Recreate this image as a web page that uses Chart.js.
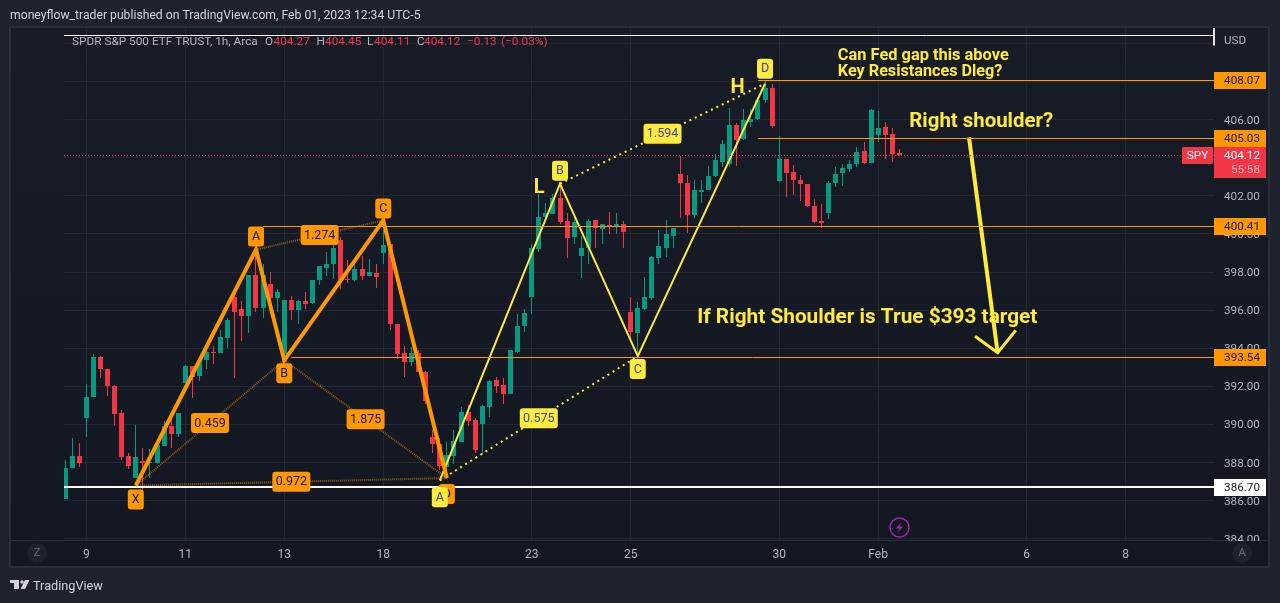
<!DOCTYPE html>
<html>
<head>
<meta charset="utf-8">
<title>SPY 1h</title>
<script src="https://cdn.jsdelivr.net/npm/chart.js@4/dist/chart.umd.min.js"></script>
<style>
    html, body { margin: 0; padding: 0; background: #1e222d; }
    canvas { display: block; }
</style>
</head>
<body>
<canvas id="spyChart" width="1280" height="603"></canvas>
<script>
// Hourly candles
const opens = [
    386.1, 387.71, 388.37, 390.32, 391.42, 393.52, 392.89, 392.0, 390.58, 388.37,
    387.22, 388.11, 388.0, 387.99, 388.85, 389.9, 389.48, 392.2, 393.05, 392.57,
    393.41, 393.83, 393.78, 394.52, 396.67, 396.04, 395.72, 397.87, 396.14, 397.4,
    396.62, 393.68, 396.51, 395.99, 396.46, 396.4, 397.56, 398.24, 398.45, 399.71,
    397.66, 397.56, 398.14, 397.82, 397.93, 398.98, 399.45, 395.3, 393.73, 393.27,
    393.73, 392.78, 389.37, 389.0, 387.75, 388.35, 389.06, 390.68, 390.26, 390.05,
    390.9, 392.36, 392.05, 391.58, 393.83, 395.15, 396.67, 399.19, 400.87, 401.03,
    401.87, 400.66, 399.82, 398.82, 399.24, 400.71, 400.24, 400.45, 400.4, 400.55,
    395.93, 394.78, 396.04, 396.62, 398.72, 399.29, 399.92, 403.13, 402.7, 400.97,
    402.18, 402.29, 403.02, 403.76, 403.65, 405.7, 404.96, 405.9, 406.01, 407.01,
    407.64, 402.76, 403.92, 403.24, 402.82, 402.61, 401.45, 400.66, 401.08, 402.66,
    403.18, 403.39, 403.66, 404.34, 403.71, 405.18, 405.6, 405.23, 404.27
];
const highs = [
    388.16, 389.27, 389.04, 392.15, 393.68, 393.62, 392.94, 392.05, 390.74, 388.53,
    390.0, 388.79, 388.7, 389.07, 390.2, 390.3, 390.63, 393.15, 393.05, 393.4,
    393.9, 394.1, 394.94, 395.6, 397.0, 396.5, 397.87, 399.1, 398.44, 397.98,
    397.12, 396.51, 396.77, 396.51, 396.93, 397.56, 398.3, 399.08, 399.73, 399.83,
    398.61, 398.4, 398.82, 398.71, 398.4, 400.2, 399.45, 395.3, 394.1, 394.06,
    393.92, 392.8, 389.7, 389.3, 389.07, 389.7, 390.91, 391.05, 390.32, 391.05,
    392.36, 392.52, 392.42, 393.89, 395.78, 396.04, 399.45, 402.11, 401.6, 402.1,
    402.6, 401.08, 400.9, 399.87, 400.76, 400.71, 400.55, 401.13, 401.08, 400.66,
    396.67, 396.41, 397.72, 398.87, 400.19, 400.71, 400.34, 404.07, 403.1, 402.81,
    402.81, 403.55, 404.18, 404.91, 406.59, 405.8, 406.54, 406.54, 407.2, 408.07,
    407.85, 405.13, 403.92, 403.6, 403.08, 402.61, 401.82, 401.56, 402.76, 403.5,
    403.66, 403.87, 404.55, 404.81, 406.54, 406.44, 405.86, 405.55, 404.45
];
const lows = [
    386.1, 387.7, 387.76, 389.37, 391.42, 392.42, 391.52, 389.9, 388.16, 387.69,
    387.22, 386.43, 387.22, 387.94, 388.85, 388.79, 389.32, 392.2, 391.37, 392.31,
    392.94, 393.2, 393.78, 394.04, 392.42, 394.36, 394.78, 395.88, 395.57, 396.3,
    395.88, 393.68, 395.46, 395.25, 396.04, 396.35, 397.3, 397.77, 397.63, 397.09,
    397.45, 397.55, 397.61, 397.77, 397.14, 398.45, 394.94, 393.45, 392.52, 393.05,
    392.78, 391.1, 388.48, 387.6, 387.4, 387.95, 389.06, 389.9, 388.53, 388.43,
    390.37, 391.63, 391.1, 391.58, 393.78, 394.83, 395.78, 399.08, 400.8, 401.03,
    400.5, 398.72, 399.5, 397.67, 398.4, 399.24, 399.5, 399.98, 400.0, 399.29,
    394.41, 393.36, 396.0, 396.55, 398.4, 398.77, 399.24, 400.82, 400.03, 400.82,
    401.6, 402.29, 403.0, 403.49, 403.49, 403.55, 404.91, 405.64, 406.0, 406.9,
    405.55, 402.71, 401.92, 402.03, 401.71, 401.4, 400.56, 400.31, 400.77, 402.45,
    402.5, 403.24, 403.5, 403.66, 403.71, 404.81, 403.92, 403.76, 404.11
];
const closes = [
    387.74, 388.37, 388.0, 391.42, 393.52, 392.89, 392.0, 390.53, 388.32, 387.8,
    388.27, 387.99, 388.05, 388.9, 389.9, 389.48, 390.63, 393.05, 392.47, 393.4,
    393.83, 393.8, 394.57, 395.51, 395.88, 395.67, 397.87, 396.14, 397.85, 396.62,
    396.93, 396.51, 395.99, 396.46, 396.35, 397.56, 398.3, 398.45, 399.25, 397.61,
    397.56, 398.14, 397.77, 397.98, 397.72, 399.4, 395.3, 393.68, 393.27, 393.73,
    392.78, 391.26, 389.0, 387.8, 388.38, 389.11, 390.68, 390.16, 388.64, 390.95,
    392.31, 392.0, 391.58, 393.89, 395.15, 395.83, 399.24, 400.87, 401.08, 401.87,
    400.61, 399.77, 400.61, 399.24, 400.66, 400.29, 400.5, 400.4, 400.55, 400.08,
    394.83, 396.09, 396.67, 398.77, 399.35, 399.98, 400.34, 402.65, 400.97, 402.29,
    402.29, 403.02, 403.86, 404.7, 405.7, 404.91, 405.96, 406.06, 407.01, 407.64,
    405.65, 403.92, 403.18, 402.82, 402.61, 401.45, 400.61, 400.56, 402.66, 403.13,
    403.45, 403.66, 404.29, 403.71, 406.49, 405.55, 405.18, 404.18, 404.12
];

// Axes
const dateTickBars = [3, 17, 31, 45, 66, 80, 101, 115, 136, 150];
const dateTickLabels = ['9', '11', '13', '18', '23', '25', '30', 'Feb', '6', '8'];
const priceGrid = [384, 386, 388, 390, 392, 394, 396, 398, 400, 402, 404, 406, 408, 410];
const priceLabelled = [384, 386, 388, 390, 392, 394, 396, 398, 400, 402, 404, 406];

// Harmonic patterns: [bar, price] of each swing
const orangeBars = [10, 27, 31, 45, 54];
const orangePrices = [386.8, 399.18, 393.37, 400.71, 387.19];
const orangeLetters = ['X', 'A', 'B', 'C', 'D'];
const orangeRatios = [[0, 2, '0.459'], [1, 3, '1.274'], [2, 4, '1.875'], [0, 4, '0.972']];
const yellowBars = [53, 70, 81, 99];
const yellowPrices = [387.07, 402.64, 393.59, 407.89];
const yellowLetters = ['A', 'B', 'C', 'D'];
const yellowRatios = [[0, 2, '0.575'], [1, 3, '1.594']];

// Horizontal levels drawn on the chart
const levelPrices = [408.07, 405.03, 400.41, 393.54];
const levelStartBars = [98, 98, 28, 32];
const supportPrice = 386.70;
const lastPrice = 404.12;
const topLinePrice = 410.43;

// Arrow down to the target
const arrowBars = [127.85, 131.9];
const arrowPrices = [405.07, 393.77];
const arrowHeadBars = [128.7, 131.9, 134.46];
const arrowHeadPrices = [394.63, 393.77, 394.94];

const notes = [
    ['Can Fed gap this above', 109.3, 409.34, 'bold 16.4px'],
    ['Key Resistances Dleg?', 109.3, 408.48, 'bold 16.2px'],
    ['H', 94.1, 407.66, 'bold 20px'],
    ['L', 66.3, 402.41, 'bold 20px'],
    ['Right shoulder?', 119.4, 405.88, 'bold 20.4px'],
    ['If Right Shoulder is True $393 target', 89.4, 395.58, 'bold 20.8px']
];

const VERDE = '#089981';
const ROJO = '#f23645';
const NARANJA = '#ff9800';
const AMARILLO = '#ffeb3b';
const FUENTE = 'Roboto, sans-serif';

const xMin = -0.154, xMax = 162.5;
const yMin = 383.94, yMax = 410.81;

function pairs(xs, ys) {
    return xs.map((x, i) => ({ x, y: ys[i] }));
}

function lineSet(data, color, width, dash, clip) {
    return {
        type: 'line', data, borderColor: color, borderWidth: width, borderDash: dash || [],
        pointRadius: 0, tension: 0, order: 1, clip: clip === undefined ? undefined : clip,
        borderCapStyle: 'butt', borderJoinStyle: 'miter'
    };
}

function dottedSets(bars, prices, ratios, color, width, dash) {
    return ratios.map(([a, b]) => lineSet(
        [{ x: bars[a], y: prices[a] }, { x: bars[b], y: prices[b] }], color, width, dash));
}

function flatSet(from, price, color, width, dash) {
    const set = lineSet([{ x: from, y: price }, { x: xMax, y: price }], color, width, dash);
    set.flat = true;
    return set;
}

const candleColors = opens.map((o, i) => (closes[i] >= o ? VERDE : ROJO));
const wicks = highs.map((h, i) => ({ x: i, y: [lows[i], h] }));
const bodies = opens.map((o, i) => ({ x: i, y: [o, closes[i]] }));

const datasets = [
    { label: 'wicks', data: wicks, backgroundColor: candleColors, barThickness: 1, grouped: false, order: 10, inflateAmount: 0, borderWidth: 0 },
    { label: 'bodies', data: bodies, backgroundColor: candleColors, barThickness: 5, grouped: false, order: 9, inflateAmount: 0, borderWidth: 0 },
    flatSet(xMin, lastPrice, ROJO, 1, [1, 2]),
    flatSet(xMin, topLinePrice, '#ffffff', 1),
    lineSet([{ x: xMax, y: yMax }, { x: xMax, y: 409.9 }], '#ffffff', 1, [], false),
    flatSet(xMin, supportPrice, '#ffffff', 2),
    ...levelPrices.map((p, i) => flatSet(levelStartBars[i], p, NARANJA, 1)),
    ...dottedSets(orangeBars, orangePrices, orangeRatios, 'rgba(255,152,0,0.55)', 2, [1, 1]),
    lineSet(pairs(orangeBars, orangePrices), NARANJA, 4),
    ...dottedSets(yellowBars, yellowPrices, yellowRatios, AMARILLO, 2, [2, 4]),
    lineSet(pairs(yellowBars, yellowPrices), AMARILLO, 2),
    lineSet(pairs(arrowBars, arrowPrices), AMARILLO, 4),
    lineSet(pairs(arrowHeadBars, arrowHeadPrices), AMARILLO, 3)
];

function caja(ctx, x, y, w, h, r, fill) {
    ctx.beginPath();
    ctx.roundRect(x, y, w, h, r);
    ctx.fillStyle = fill;
    ctx.fill();
}

function texto(ctx, str, x, y, font, color, align) {
    ctx.font = font + ' ' + FUENTE;
    ctx.fillStyle = color;
    ctx.textAlign = align || 'left';
    ctx.textBaseline = 'middle';
    ctx.fillText(str, x, y);
}

function etiqueta(ctx, str, cx, cy, w, fill, color) {
    caja(ctx, cx - w / 2, cy - 10, w, 20, 3, fill);
    texto(ctx, str, cx, cy + 0.5, '12.5px', color, 'center');
}

// Snap candles and flat levels to whole pixels so they stay crisp
const snapPlugin = {
    id: 'snap',
    afterDatasetsUpdate(chart) {
        [0, 1].forEach(d => {
            chart.getDatasetMeta(d).data.forEach(el => {
                el.x = Math.floor(el.x) + 0.5;
                el.y = Math.round(el.y);
                el.base = Math.round(el.base);
                if (el.y === el.base) el.base += 1;
                el.height = el.base - el.y;
            });
        });
        chart.data.datasets.forEach((set, d) => {
            if (!set.flat) return;
            chart.getDatasetMeta(d).data.forEach(el => {
                el.y = set.borderWidth === 2 ? Math.round(el.y) : Math.floor(el.y) + 0.5;
            });
        });
    }
};

// Page background, frame and header text
const framePlugin = {
    id: 'frame',
    beforeDraw(chart) {
        const ctx = chart.ctx;
        ctx.save();
        ctx.fillStyle = '#1e222d';
        ctx.fillRect(0, 0, 1280, 603);
        const grad = ctx.createLinearGradient(0, 27, 0, 567);
        grad.addColorStop(0, '#181c27');
        grad.addColorStop(1, '#131722');
        ctx.fillStyle = grad;
        ctx.fillRect(10, 27, 1259, 540);
        ctx.strokeStyle = '#2a2e39';
        ctx.lineWidth = 2;
        ctx.strokeRect(10, 27, 1259, 540);
        ctx.lineWidth = 1;
        ctx.beginPath();
        ctx.moveTo(11, 540.5);
        ctx.lineTo(1268, 540.5);
        ctx.stroke();
        texto(ctx, 'moneyflow_trader published on TradingView.com, Feb 01, 2023 12:34 UTC-5', 10, 15.5, '12.2px', '#d1d4dc');
        texto(ctx, 'TradingView', 33, 587, '12.7px', '#d1d4dc');
        // logo
        ctx.fillStyle = '#d1d4dc';
        ctx.fillRect(10, 580, 9, 3);
        ctx.fillRect(14, 583, 5, 6);
        ctx.beginPath();
        ctx.arc(22, 582, 1.7, 0, Math.PI * 2);
        ctx.fill();
        ctx.beginPath();
        ctx.moveTo(25, 580);
        ctx.lineTo(29.5, 580);
        ctx.lineTo(25, 589);
        ctx.lineTo(20.5, 589);
        ctx.fill();
        ctx.restore();
    },
    beforeDatasetsDraw(chart) {
        // the lowest price label is cut by the date axis
        const ctx = chart.ctx;
        ctx.save();
        ctx.fillStyle = '#131722';
        ctx.fillRect(1215, 541, 53, 25);
        ctx.restore();
    }
};

// Everything written over the candles
const notesPlugin = {
    id: 'notes',
    afterDatasetsDraw(chart) {
        const ctx = chart.ctx;
        const sx = chart.scales.x, sy = chart.scales.y;
        ctx.save();

        // legend
        const yLeg = 42.5;
        texto(ctx, 'SPDR S&P 500 ETF TRUST, 1h, Arca', 72, yLeg, '11.8px', '#b2b5be');
        [['O', 265], ['H', 316.5], ['L', 367], ['C', 417]].forEach(([s, x]) => texto(ctx, s, x, yLeg, '11.8px', '#b2b5be'));
        [['404.27', 273.5], ['404.45', 325], ['404.11', 374], ['404.12', 424], ['\u22120.13', 467], ['(\u22120.03%)', 501]]
            .forEach(([s, x]) => texto(ctx, s, x, yLeg, '11.8px', ROJO));

        // free text
        notes.forEach(([str, bar, price, font]) => {
            texto(ctx, str, sx.getPixelForValue(bar), sy.getPixelForValue(price), font, AMARILLO);
        });

        // ratio tags sit halfway along the dotted legs
        const tags = (bars, prices, ratios, fill, color) => ratios.forEach(([a, b, str]) => {
            const cx = (sx.getPixelForValue(bars[a]) + sx.getPixelForValue(bars[b])) / 2;
            const cy = (sy.getPixelForValue(prices[a]) + sy.getPixelForValue(prices[b])) / 2;
            etiqueta(ctx, str, cx, cy, 38, fill, color);
        });
        tags(orangeBars, orangePrices, orangeRatios, NARANJA, '#131722');
        tags(yellowBars, yellowPrices, yellowRatios, AMARILLO, '#3a4a9f');

        const letras = (bars, prices, letters, gaps, fill, color) => letters.forEach((s, i) => {
            etiqueta(ctx, s, sx.getPixelForValue(bars[i]), sy.getPixelForValue(prices[i]) + gaps[i], 16, fill, color);
        });
        letras(orangeBars, orangePrices, orangeLetters, [14, -13, 13, -12, 16], NARANJA, '#131722');
        letras(yellowBars, yellowPrices, yellowLetters, [17, -13, 13, -15], AMARILLO, '#3a4a9f');

        // price axis labels
        const priceTag = (str, price, fill, color) => {
            const y = Math.round(sy.getPixelForValue(price));
            ctx.fillStyle = fill;
            ctx.fillRect(1214, y - 8, 52, 17);
            texto(ctx, str, 1260, y + 1.5, '11.7px', color, 'right');
        };
        priceTag('408.07', 408.07, NARANJA, '#131722');
        priceTag('405.03', 405.03, NARANJA, '#131722');
        priceTag('400.41', 400.41, NARANJA, '#131722');
        priceTag('393.54', 393.54, NARANJA, '#131722');
        priceTag('386.70', 386.70, '#ffffff', '#131722');

        ctx.fillStyle = ROJO;
        ctx.fillRect(1214, 147, 52, 31);
        texto(ctx, '404.12', 1260, 156.5, '11.7px', '#ffffff', 'right');
        texto(ctx, '55:58', 1260, 170.5, '11.7px', '#ffb3b9', 'right');
        caja(ctx, 1182, 147, 31, 17, 1, ROJO);
        texto(ctx, 'SPY', 1197.5, 156.5, '11.7px', '#ffffff', 'center');

        texto(ctx, 'USD', 1224, 41.5, '11.7px', '#b2b5be');

        // corner buttons
        [[37, 'Z'], [1242, 'A']].forEach(([x, s]) => {
            ctx.beginPath();
            ctx.arc(x, 553, 10, 0, Math.PI * 2);
            ctx.fillStyle = '#1e222d';
            ctx.fill();
            texto(ctx, s, x, 553.5, '11.7px', '#6a6d78', 'center');
        });

        // lightning mark
        ctx.strokeStyle = '#9c27b0';
        ctx.lineWidth = 1.5;
        ctx.beginPath();
        ctx.arc(899.5, 527.5, 9.5, 0, Math.PI * 2);
        ctx.stroke();
        ctx.fillStyle = '#9c27b0';
        ctx.beginPath();
        ctx.moveTo(901.5, 522);
        ctx.lineTo(896, 528.5);
        ctx.lineTo(899.5, 528.5);
        ctx.lineTo(897.5, 533);
        ctx.lineTo(903, 526.5);
        ctx.lineTo(899.5, 526.5);
        ctx.fill();
        ctx.restore();
    }
};

new Chart(document.getElementById('spyChart').getContext('2d'), {
    type: 'bar',
    data: { datasets },
    plugins: [snapPlugin, framePlugin, notesPlugin],
    options: {
        responsive: false,
        animation: false,
        devicePixelRatio: 1,
        layout: { padding: { left: 64, top: 28, right: 0, bottom: 0 } },
        plugins: { legend: { display: false }, tooltip: { enabled: false } },
        scales: {
            x: {
                type: 'linear',
                min: xMin,
                max: xMax,
                offset: false,
                grid: { color: '#242832', drawTicks: false, offset: false },
                border: { display: false },
                afterBuildTicks: scale => { scale.ticks = dateTickBars.map(value => ({ value })); },
                afterFit: scale => { scale.height = 63; },
                ticks: {
                    autoSkip: false,
                    maxRotation: 0,
                    padding: 8,
                    color: '#b2b5be',
                    font: { family: FUENTE, size: 12 },
                    callback: value => dateTickLabels[dateTickBars.indexOf(value)]
                }
            },
            y: {
                position: 'right',
                min: yMin,
                max: yMax,
                grid: { color: '#242832', drawTicks: false },
                border: { display: false },
                afterBuildTicks: scale => { scale.ticks = priceGrid.map(value => ({ value })); },
                afterFit: scale => { scale.width = 66; },
                ticks: {
                    autoSkip: false,
                    padding: 10,
                    labelOffset: 1,
                    color: '#b2b5be',
                    font: { family: FUENTE, size: 11.7 },
                    callback: value => (priceLabelled.includes(value) ? value.toFixed(2) : '')
                }
            }
        }
    }
});
</script>
</body>
</html>
